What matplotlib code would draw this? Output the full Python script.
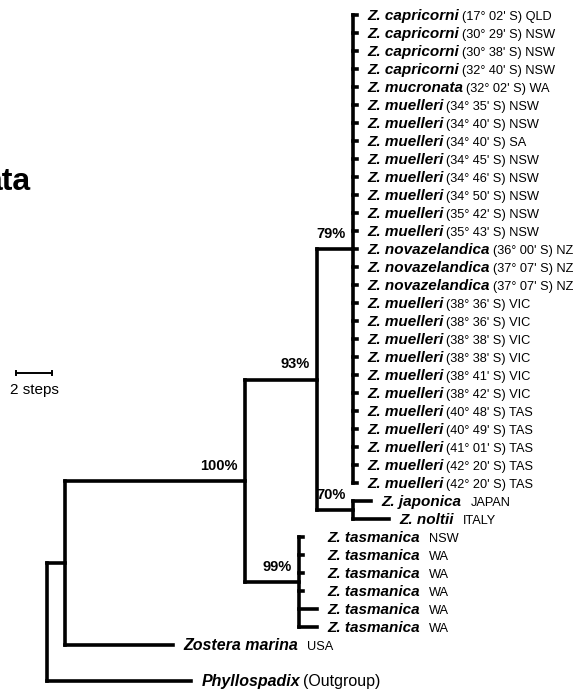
import matplotlib.pyplot as plt

plt.rcParams['font.family'] = ['Liberation Sans', 'DejaVu Sans']

# terminal taxa of the big comb, top to bottom
comb_species = (['Z. capricorni'] * 4 + ['Z. mucronata'] + ['Z. muelleri'] * 8
                + ['Z. novazelandica'] * 3 + ['Z. muelleri'] * 11)
comb_sites = ["(17° 02' S) QLD", "(30° 29' S) NSW", "(30° 38' S) NSW", "(32° 40' S) NSW",
              "(32° 02' S) WA", "(34° 35' S) NSW", "(34° 40' S) NSW", "(34° 40' S) SA",
              "(34° 45' S) NSW", "(34° 46' S) NSW", "(34° 50' S) NSW", "(35° 42' S) NSW",
              "(35° 43' S) NSW", "(36° 00' S) NZ", "(37° 07' S) NZ", "(37° 07' S) NZ",
              "(38° 36' S) VIC", "(38° 36' S) VIC", "(38° 38' S) VIC", "(38° 38' S) VIC",
              "(38° 41' S) VIC", "(38° 42' S) VIC", "(40° 48' S) TAS", "(40° 49' S) TAS",
              "(41° 01' S) TAS", "(42° 20' S) TAS", "(42° 20' S) TAS"]
tas_sites = ['NSW', 'WA', 'WA', 'WA', 'WA', 'WA']
tas_lengths = [0, 0, 0, 0, 1, 1]

# branch lengths in steps
len_outgroup = 8
len_marina_stem = 1
len_marina = 6
len_zostera = 10
len_tas = 3
len_core = 4
len_comb = 2
len_jn = 2
len_japonica = 1
len_noltii = 2
scale_steps = 2


def leaf(name, site, length):
    return {'name': name, 'site': site, 'len': length, 'kids': []}


def clade(length, kids, support=None):
    return {'len': length, 'kids': kids, 'support': support}


comb = clade(len_comb, [leaf(s, c, 0) for s, c in zip(comb_species, comb_sites)], '79%')
jn = clade(len_jn, [leaf('Z. japonica', 'JAPAN', len_japonica),
                    leaf('Z. noltii', 'ITALY', len_noltii)], '70%')
core = clade(len_core, [comb, jn], '93%')
tas = clade(len_tas, [leaf('Z. tasmanica', s, l) for s, l in zip(tas_sites, tas_lengths)], '99%')
zostera = clade(len_zostera, [core, tas], '100%')
marina = leaf('Zostera marina', 'USA', len_marina)
marina_grp = clade(len_marina_stem, [zostera, marina])
outgroup = leaf('Phyllospadix', '(Outgroup)', len_outgroup)
root = clade(0, [marina_grp, outgroup])

# layout: x in steps, y in rows
row = [0]


def layout(node, x0):
    node['x'] = x0 + node['len']
    if not node['kids']:
        if node is outgroup:
            row[0] += 1  # blank row before the outgroup
        node['y'] = row[0]
        row[0] += 1
        return
    for k in node['kids']:
        layout(k, node['x'])
    node['y'] = (node['kids'][0]['y'] + node['kids'][-1]['y']) / 2


layout(root, 0)

fig = plt.figure(figsize=(5.77, 6.91), dpi=100)
ax = fig.add_axes([0, 0, 1, 1])
ax.set_xlim(-47 / 18, 530 / 18)
ax.set_ylim(676 / 18, -15 / 18)
ax.axis('off')
renderer = fig.canvas.get_renderer()

LINE = dict(color='black', lw=2.6, solid_capstyle='projecting')
STUB = 0.22
GAP = 0.58


def label(node, lx):
    y = node['y'] + 0.3
    big = node is outgroup or node is marina
    t = ax.text(lx, y, node['name'], fontsize=11.5 if big else 11, fontweight='bold',
                style='italic', ha='left', va='baseline')
    bb = t.get_window_extent(renderer)
    x_end = ax.transData.inverted().transform((bb.x1, bb.y0))[0]
    pad = 0.15 if node['site'].startswith('(') else 0.5
    ax.text(x_end + pad, y, node['site'], fontsize=11.5 if node is outgroup else 9.2,
            ha='left', va='baseline')


def draw(node):
    kids = node['kids']
    ax.plot([node['x']] * 2, [kids[0]['y'], kids[-1]['y']], **LINE)
    tip_end = max(max(k['x'], node['x'] + STUB) for k in kids)
    for k in kids:
        x1 = max(k['x'], node['x'] + STUB)
        ax.plot([node['x'], x1], [k['y']] * 2, **LINE)
        if k['kids']:
            draw(k)
            if k['support']:
                ax.text(k['x'] - 0.4, k['y'] - 0.62, k['support'], fontsize=10.5,
                        fontweight='bold', ha='right', va='baseline')
        else:
            label(k, (tip_end if k['len'] == 0 else x1) + GAP)


draw(root)

# scale bar
sx, sy = -1.72, 19.9
ax.plot([sx, sx + scale_steps], [sy, sy], color='black', lw=1.4)
for xx in (sx, sx + scale_steps):
    ax.plot([xx, xx], [sy - 0.1, sy + 0.1], color='black', lw=1.4)
ax.text(sx + scale_steps / 2, 21.05, '%d steps' % scale_steps, fontsize=11,
        ha='center', va='baseline')

# title cut off at the left edge, as in the source figure
ax.text(-0.94, 9.72, 'ata', fontsize=23, fontweight='bold', ha='right', va='baseline')

fig.savefig('out.png', dpi=100)
